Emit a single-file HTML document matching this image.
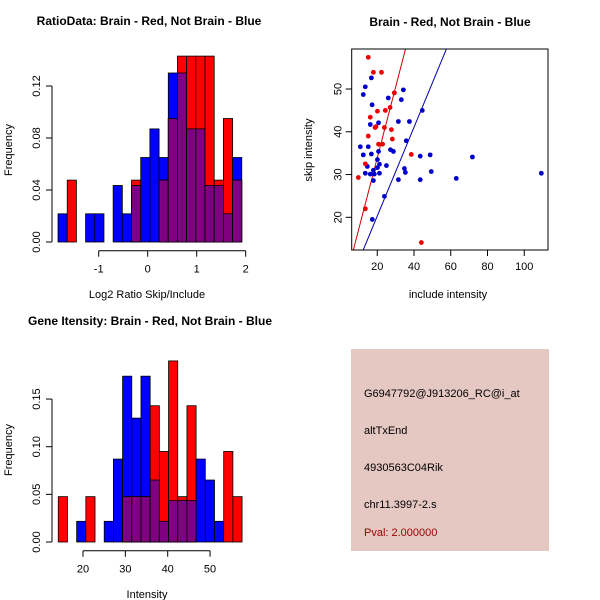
<!DOCTYPE html>
<html><head><meta charset="utf-8"><style>
body{margin:0;background:#fff}
svg{display:block;font-family:"Liberation Sans",sans-serif}
</style></head><body>
<svg id="s" width="600" height="600" xmlns="http://www.w3.org/2000/svg">
<rect width="600" height="600" fill="#fff"/>
<g id="p1"></g>
<g id="p2"></g>
<g id="p3"></g>
<g>
<rect x="351" y="349" width="198" height="202" fill="#E6C8C3"/>
<text x="364" y="397" font-size="11">G6947792@J913206_RC@i_at</text>
<text x="364" y="434" font-size="11">altTxEnd</text>
<text x="364" y="471" font-size="11">4930563C04Rik</text>
<text x="364" y="508" font-size="11">chr11.3997-2.s</text>
<text x="364" y="536" font-size="11" fill="#990000">Pval: 2.000000</text>
</g>
</svg>
<script>
// Ratio histogram data
const ratioStart = -1.83, ratioWidth = 0.1875;
const ratioBlue = [0.0217,0,0,0.0217,0.0217,0,0.0435,0.0217,0.0435,0.065,0.087,0.065,0.13,0.13,0.087,0.087,0.0435,0.0435,0.0217,0.065];
const ratioRed  = [0,0.0476,0,0,0,0,0,0,0.0476,0,0,0.0476,0.095,0.143,0.143,0.143,0.143,0.0476,0.095,0.0476];
const ratioXTicks = [-1,0,1,2];
const ratioYTicks = [0,0.04,0.08,0.12];
// Gene intensity histogram data
const intStart = 14.16, intWidth = 2.17;
const intBlue = [0,0,0.0217,0,0,0.0217,0.087,0.174,0.13,0.174,0.065,0.0217,0.0435,0.0435,0.0435,0.087,0.065,0.0217,0,0];
const intRed  = [0.0476,0,0,0.0476,0,0,0,0.0476,0.0476,0.0476,0.143,0.095,0.19,0.0476,0.143,0,0,0,0.095,0.0476];
const intXTicks = [20,30,40,50];
const intYTicks = [0,0.05,0.10,0.15];
// Scatter data
const redX = [15.1,17.9,22.3,29.3,20.1,24.4,27.0,16.2,19.3,18.8,23.9,27.7,15.1,28.2,20.7,22.9,38.5,13.5,9.7,13.5,44.0];
const redY = [57.4,53.9,53.9,49.1,44.8,45.0,45.7,43.4,41.2,41.0,41.0,40.5,39.0,38.3,37.1,37.1,34.7,32.5,29.3,22.0,14.1];
const blueX = [16.8,13.5,12.4,34.2,26.0,33.1,17.2,29.3,44.5,31.5,37.5,20.7,16.2,35.8,10.8,15.1,27.2,28.8,20.7,12.4,16.8,43.4,48.8,71.8,20.1,21.2,25.0,14.6,20.1,34.8,35.3,17.9,13.5,16.2,18.4,21.2,49.4,109.3,17.9,31.5,43.4,63.0,23.9,17.3];
const blueY = [52.6,50.5,48.7,49.8,47.9,47.5,46.3,49.1,45.0,42.4,42.4,42.1,41.7,37.9,36.5,36.5,35.8,35.4,35.4,34.6,34.8,34.3,34.6,34.1,33.5,32.4,32.1,31.9,31.6,31.4,30.5,31.0,30.3,30.1,30.1,30.3,30.7,30.3,28.6,28.8,28.8,29.1,24.9,19.5];
const redLine = [0.8,1.655];   // intercept, slope
const blueLine = [-0.47,1.038];
const scXTicks = [20,40,60,80,100];
const scYTicks = [20,30,40,50];

const NS="http://www.w3.org/2000/svg";
function mk(parent,tag,attrs,text){const e=document.createElementNS(NS,tag);for(const k in attrs)e.setAttribute(k,attrs[k]);if(text!==undefined)e.textContent=text;parent.appendChild(e);return e;}

function hist(g,cfg){
  const sx=v=>cfg.x0px+(v-cfg.x0)*cfg.kx, sy=v=>cfg.y0px-v*cfg.ky;
  for(let i=0;i<cfg.blue.length;i++){
    const a=cfg.start+i*cfg.w, x=sx(a), w=cfg.w*cfg.kx;
    const b=cfg.blue[i], r=cfg.red[i], m=Math.min(b,r);
    if(b>0){const e=mk(g,'rect',{x:x,y:sy(b),width:w,height:sy(0)-sy(b),fill:'#0000FF',stroke:'#000','stroke-width':0.8});
      
      }
    if(r>0){const e=mk(g,'rect',{x:x,y:sy(r),width:w,height:sy(0)-sy(r),fill:'#FF0000',stroke:'#000','stroke-width':0.8});
      
      }
    if(m>0){const e=mk(g,'rect',{x:x,y:sy(m),width:w,height:sy(0)-sy(m),fill:'#7F0080',stroke:'#000','stroke-width':0.8});
      
      }
  }
  const yt=cfg.yTicks;
  mk(g,'line',{x1:52,x2:52,y1:sy(yt[0]),y2:sy(yt[yt.length-1]),stroke:'#000'});
  yt.forEach(t=>{mk(g,'line',{x1:46,x2:52,y1:sy(t),y2:sy(t),stroke:'#000'});
    const e=mk(g,'text',{x:0,y:0,'font-size':11,'text-anchor':'middle',transform:`translate(40,${sy(t)}) rotate(-90)`},t.toFixed(2));
    
    });
  const xt=cfg.xTicks, ay=cfg.y0px+8.7;
  mk(g,'line',{x1:sx(xt[0]),x2:sx(xt[xt.length-1]),y1:ay,y2:ay,stroke:'#000'});
  xt.forEach(t=>{mk(g,'line',{x1:sx(t),x2:sx(t),y1:ay,y2:ay+6,stroke:'#000'});
    const e=mk(g,'text',{x:sx(t),y:ay+22,'font-size':11,'text-anchor':'middle'},String(t));
    
    });
  let e=mk(g,'text',{x:cfg.titleX,y:cfg.y0px-217,'font-size':12,'font-weight':'bold','text-anchor':'middle'},cfg.title);
  
  
  e=mk(g,'text',{x:147,y:cfg.y0px+56,'font-size':11,'text-anchor':'middle'},cfg.xlab);
  
  
  e=mk(g,'text',{x:0,y:0,'font-size':11,'text-anchor':'middle',transform:`translate(12,${cfg.y0px-92}) rotate(-90)`},'Frequency');
  
  
}
hist(document.getElementById('p1'),{start:ratioStart,w:ratioWidth,blue:ratioBlue,red:ratioRed,x0:0,x0px:147.7,kx:49,y0px:242,ky:1300,
  xTicks:ratioXTicks,yTicks:ratioYTicks,title:'RatioData: Brain - Red, Not Brain - Blue',titleX:149,xlab:'Log2 Ratio Skip/Include'});
hist(document.getElementById('p3'),{start:intStart,w:intWidth,blue:intBlue,red:intRed,x0:20,x0px:83,kx:4.235,y0px:542,ky:953,
  xTicks:intXTicks,yTicks:intYTicks,title:'Gene Itensity: Brain - Red, Not Brain - Blue',titleX:150,xlab:'Intensity'});

(function(){
  const g=document.getElementById('p2');
  const L=351.7,R=548,T=49,B=250;
  const sx=v=>340.5+v*1.8375, sy=v=>89+(50-v)*4.277;
  const xmin=(L-340.5)/1.8375, xmax=(R-340.5)/1.8375;
  const clip=mk(g,'clipPath',{id:'scclip'});mk(clip,'rect',{x:L,y:T,width:R-L,height:B-T});
  [[blueLine,'#0000AA','blue-fit-line'],[redLine,'#CC0000','red-fit-line']].forEach(([ln,c,n])=>{
    const e=mk(g,'line',{x1:sx(xmin),y1:sy(ln[0]+ln[1]*xmin),x2:sx(xmax),y2:sy(ln[0]+ln[1]*xmax),stroke:c,'stroke-width':1,'clip-path':'url(#scclip)'});
    
    
  });
  blueX.forEach((x,i)=>{const e=mk(g,'circle',{cx:sx(x),cy:sy(blueY[i]),r:2.4,fill:'#0000CC'});
    
    });
  redX.forEach((x,i)=>{const e=mk(g,'circle',{cx:sx(x),cy:sy(redY[i]),r:2.4,fill:'#EE0000'});
    
    });
  mk(g,'rect',{x:L,y:T,width:R-L,height:B-T,fill:'none',stroke:'#000'});
  scXTicks.forEach(t=>{mk(g,'line',{x1:sx(t),x2:sx(t),y1:B,y2:B+6,stroke:'#000'});
    const e=mk(g,'text',{x:sx(t),y:B+20,'font-size':11,'text-anchor':'middle'},String(t));
    
    });
  scYTicks.forEach(t=>{mk(g,'line',{x1:L-6,x2:L,y1:sy(t),y2:sy(t),stroke:'#000'});
    const e=mk(g,'text',{x:0,y:0,'font-size':11,'text-anchor':'middle',transform:`translate(${L-10},${sy(t)}) rotate(-90)`},String(t));
    
    });
  let e=mk(g,'text',{x:450,y:26,'font-size':12,'font-weight':'bold','text-anchor':'middle'},'Brain - Red, Not Brain - Blue');
  
  
  e=mk(g,'text',{x:448,y:298,'font-size':11,'text-anchor':'middle'},'include intensity');
  
  
  e=mk(g,'text',{x:0,y:0,'font-size':11,'text-anchor':'middle',transform:'translate(312,150) rotate(-90)'},'skip intensity');
  
  
})();
</script>
</body></html>
